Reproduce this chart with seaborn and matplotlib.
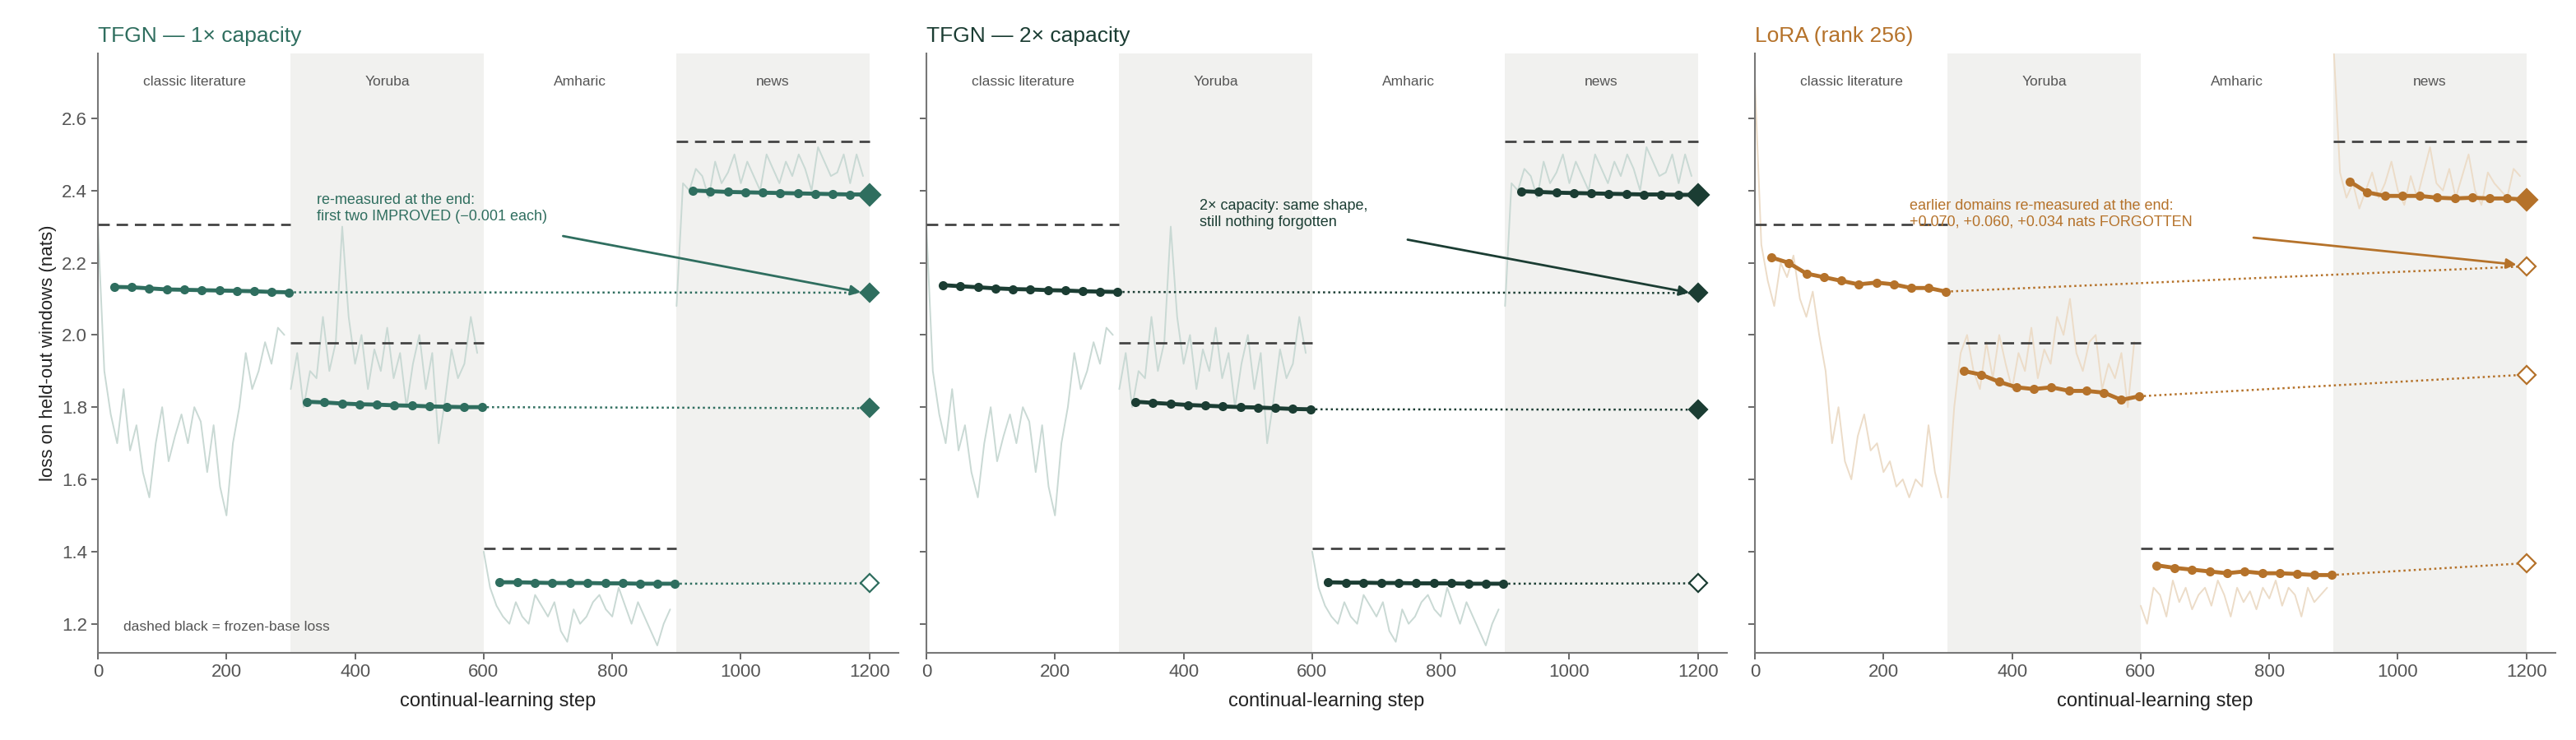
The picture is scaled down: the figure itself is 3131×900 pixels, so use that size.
import matplotlib
matplotlib.use("Agg")
import matplotlib.pyplot as plt
import seaborn as sns
import numpy as np
import pandas as pd

sns.set_theme(style="ticks")
plt.rcParams['font.family'] = ['Liberation Sans', 'DejaVu Sans']

domains = ["classic literature", "Yoruba", "Amharic", "news"]
domain_edges = [0, 300, 600, 900, 1200]
base_loss = [2.305, 1.978, 1.408, 2.535]
eval_steps_rel = [25, 52, 80, 107, 134, 161, 189, 216, 243, 270, 297]

tfgn1_eval = [
    [2.133, 2.132, 2.129, 2.126, 2.125, 2.124, 2.123, 2.122, 2.121, 2.119, 2.118],
    [1.815, 1.813, 1.810, 1.808, 1.807, 1.805, 1.804, 1.802, 1.801, 1.800, 1.800],
    [1.315, 1.315, 1.314, 1.313, 1.313, 1.313, 1.312, 1.312, 1.311, 1.311, 1.311],
    [2.400, 2.398, 2.396, 2.395, 2.394, 2.393, 2.392, 2.391, 2.390, 2.389, 2.389],
]
tfgn1_final = [2.117, 1.797, 1.312, 2.388]
tfgn2_eval = [
    [2.138, 2.135, 2.132, 2.129, 2.127, 2.126, 2.124, 2.123, 2.121, 2.120, 2.119],
    [1.815, 1.812, 1.809, 1.806, 1.804, 1.802, 1.800, 1.799, 1.797, 1.795, 1.794],
    [1.315, 1.314, 1.314, 1.313, 1.313, 1.312, 1.312, 1.312, 1.311, 1.311, 1.311],
    [2.398, 2.396, 2.394, 2.393, 2.392, 2.391, 2.390, 2.389, 2.389, 2.388, 2.388],
]
tfgn2_final = [2.116, 1.793, 1.312, 2.387]
lora_eval = [
    [2.215, 2.200, 2.170, 2.160, 2.150, 2.140, 2.145, 2.140, 2.130, 2.130, 2.120],
    [1.900, 1.890, 1.870, 1.855, 1.850, 1.855, 1.845, 1.845, 1.840, 1.820, 1.830],
    [1.362, 1.355, 1.350, 1.345, 1.340, 1.345, 1.340, 1.340, 1.338, 1.335, 1.335],
    [2.425, 2.395, 2.385, 2.385, 2.385, 2.380, 2.378, 2.380, 2.378, 2.378, 2.375],
]
lora_final = [2.190, 1.890, 1.368, 2.375]

# noisy training-loss traces, one value every 10 steps (0..1190)
trace_steps = list(range(0, 1200, 10))
tfgn_trace = [
    2.30, 1.90, 1.78, 1.70, 1.85, 1.68, 1.75, 1.62, 1.55, 1.70,
    1.80, 1.65, 1.72, 1.78, 1.70, 1.80, 1.76, 1.62, 1.75, 1.58,
    1.50, 1.70, 1.80, 1.95, 1.85, 1.90, 1.98, 1.92, 2.02, 2.00,
    1.85, 1.95, 1.80, 1.90, 1.88, 2.05, 1.90, 1.98, 2.30, 2.05,
    1.92, 2.00, 1.85, 1.96, 1.90, 2.02, 1.88, 1.95, 1.80, 1.92,
    2.00, 1.85, 1.95, 1.70, 1.82, 1.96, 1.88, 1.92, 2.05, 1.95,
    1.40, 1.30, 1.25, 1.22, 1.20, 1.26, 1.22, 1.20, 1.28, 1.25,
    1.22, 1.26, 1.18, 1.15, 1.24, 1.20, 1.22, 1.26, 1.28, 1.24,
    1.22, 1.30, 1.25, 1.20, 1.26, 1.22, 1.18, 1.14, 1.20, 1.24,
    2.08, 2.42, 2.40, 2.46, 2.44, 2.38, 2.48, 2.42, 2.45, 2.50,
    2.42, 2.48, 2.44, 2.40, 2.50, 2.46, 2.42, 2.48, 2.44, 2.50,
    2.46, 2.40, 2.52, 2.48, 2.44, 2.45, 2.50, 2.42, 2.50, 2.44,
]
lora_trace = [
    2.70, 2.25, 2.15, 2.08, 2.20, 2.16, 2.22, 2.10, 2.05, 2.12,
    2.00, 1.90, 1.70, 1.80, 1.65, 1.60, 1.72, 1.78, 1.68, 1.70,
    1.62, 1.65, 1.58, 1.60, 1.55, 1.60, 1.58, 1.75, 1.62, 1.55,
    1.55, 1.80, 1.95, 2.00, 1.90, 1.85, 1.98, 1.88, 2.00, 1.92,
    1.85, 1.95, 1.90, 2.02, 1.88, 1.96, 1.92, 2.05, 2.00, 2.10,
    1.95, 1.90, 1.98, 2.00, 1.85, 1.92, 1.88, 1.95, 1.80, 1.98,
    1.25, 1.20, 1.30, 1.28, 1.22, 1.32, 1.26, 1.30, 1.24, 1.28,
    1.30, 1.25, 1.32, 1.28, 1.22, 1.30, 1.26, 1.29, 1.24, 1.30,
    1.27, 1.32, 1.25, 1.30, 1.28, 1.22, 1.30, 1.26, 1.28, 1.30,
    2.80, 2.45, 2.38, 2.42, 2.35, 2.40, 2.45, 2.38, 2.42, 2.48,
    2.40, 2.36, 2.44, 2.38, 2.45, 2.52, 2.42, 2.40, 2.46, 2.38,
    2.44, 2.50, 2.40, 2.36, 2.45, 2.42, 2.40, 2.38, 2.46, 2.44,
]

panels = [
    dict(title="TFGN — 1× capacity", color="#2f6e5f", trace="#c9d9d4", ev=tfgn1_eval, fin=tfgn1_final,
         tr=tfgn_trace, open_idx=[2], note="re-measured at the end:\nfirst two IMPROVED (−0.001 each)",
         note_xy=(340, 2.35), arrow_from=(720, 2.275), arrow_to=(1190, 2.117)),
    dict(title="TFGN — 2× capacity", color="#1b3d33", trace="#c9d9d4", ev=tfgn2_eval, fin=tfgn2_final,
         tr=tfgn_trace, open_idx=[2], note="2× capacity: same shape,\nstill nothing forgotten",
         note_xy=(425, 2.335), arrow_from=(745, 2.265), arrow_to=(1190, 2.116)),
    dict(title="LoRA (rank 256)", color="#b5722a", trace="#ecdcc8", ev=lora_eval, fin=lora_final,
         tr=lora_trace, open_idx=[0, 1, 2], note="earlier domains re-measured at the end:\n+0.070, +0.060, +0.034 nats FORGOTTEN",
         note_xy=(240, 2.335), arrow_from=(772, 2.27), arrow_to=(1188, 2.194)),
]

fig, axes = plt.subplots(1, 3, figsize=(31.31, 9), dpi=100, sharey=True)
fig.subplots_adjust(left=0.038, right=0.992, top=0.928, bottom=0.118, wspace=0.035)

for ax, p in zip(axes, panels):
    c = p["color"]
    for i in range(4):
        if i % 2 == 1:
            ax.axvspan(domain_edges[i], domain_edges[i + 1], color="#f1f1ef", zorder=0, lw=0)
        ax.text((domain_edges[i] + domain_edges[i + 1]) / 2, 2.70, domains[i], ha="center", va="center",
                fontsize=12.5, color="#555555")
    tdf = pd.DataFrame({"step": trace_steps, "loss": p["tr"]})
    for i in range(4):
        seg = tdf[(tdf.step >= domain_edges[i]) & (tdf.step < domain_edges[i + 1])]
        sns.lineplot(data=seg, x="step", y="loss", ax=ax, color=p["trace"], lw=1.4, zorder=1)
    for i in range(4):
        ax.hlines(base_loss[i], domain_edges[i], domain_edges[i + 1], colors="#444444", linestyles=(0, (5, 3)), lw=2, zorder=3)
        xs = [domain_edges[i] + s for s in eval_steps_rel]
        edf = pd.DataFrame({"step": xs, "loss": p["ev"][i]})
        sns.lineplot(data=edf, x="step", y="loss", ax=ax, color=c, lw=3.5, marker="o", markersize=8,
                     markeredgewidth=0, zorder=4)
        if i < 3:
            ax.plot([xs[-1], 1200], [p["ev"][i][-1], p["fin"][i]], ls=(0, (1, 1.5)), color=c, lw=1.8, zorder=3)
        opn = i in p["open_idx"]
        ax.plot([1200], [p["fin"][i]], marker="D", markersize=11 if i < 3 else 13,
                markerfacecolor="white" if opn else c, markeredgecolor=c, markeredgewidth=1.6, zorder=5, clip_on=False)
    ax.text(*p["note_xy"], p["note"], color=c, fontsize=13, va="center", ha="left", zorder=6)
    ax.annotate("", xy=p["arrow_to"], xytext=p["arrow_from"],
                arrowprops=dict(arrowstyle="-|>", color=c, lw=2, mutation_scale=18), zorder=6)
    ax.set_title(p["title"], loc="left", color=c, fontsize=19, pad=10)
    ax.set_xlim(0, 1245)
    ax.set_ylim(1.12, 2.78)
    ax.set_xticks([0, 200, 400, 600, 800, 1000, 1200])
    ax.set_yticks([1.2, 1.4, 1.6, 1.8, 2.0, 2.2, 2.4, 2.6])
    ax.set_xlabel("continual-learning step", fontsize=17, color="#222222", labelpad=10)
    ax.set_ylabel("")
    ax.tick_params(labelsize=16, colors="#555555")
    for sp in ["top", "right"]:
        ax.spines[sp].set_visible(False)
    for sp in ["left", "bottom"]:
        ax.spines[sp].set_color("#777777")
        ax.spines[sp].set_linewidth(1.5)

axes[0].set_ylabel("loss on held-out windows (nats)", fontsize=16, color="#222222")
axes[0].text(40, 1.18, "dashed black = frozen-base loss", fontsize=12.5, color="#555555")

fig.savefig("out.png", dpi=100)
